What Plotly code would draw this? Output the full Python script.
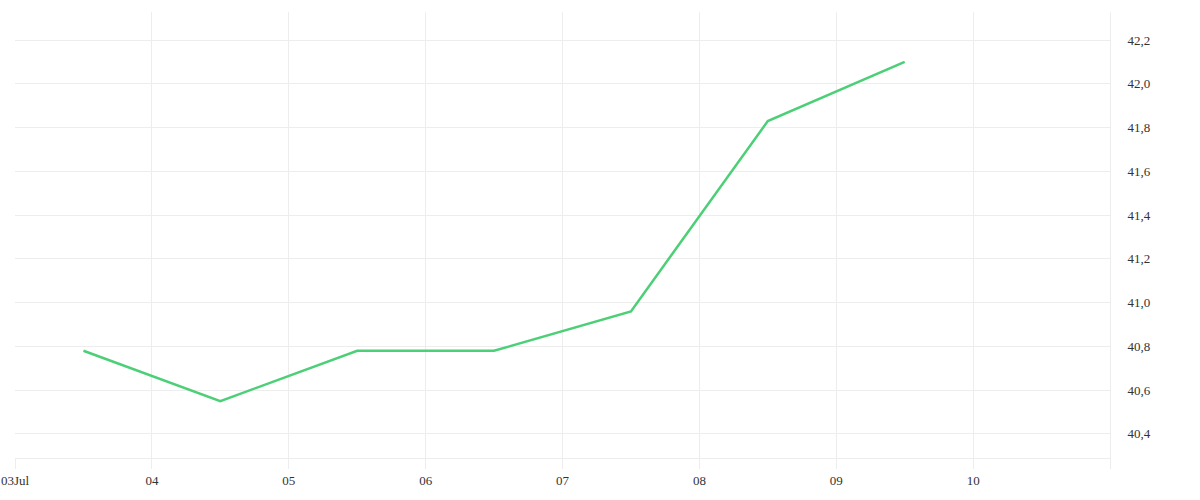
import plotly.graph_objects as go

# daily values, plotted at midday
dates = ["2024-07-03 12:00", "2024-07-04 12:00", "2024-07-05 12:00", "2024-07-06 12:00",
         "2024-07-07 12:00", "2024-07-08 12:00", "2024-07-09 12:00"]
values = [40.78, 40.55, 40.78, 40.78, 40.96, 41.83, 42.10]

tick_dates = ["2024-07-03", "2024-07-04", "2024-07-05", "2024-07-06", "2024-07-07",
              "2024-07-08", "2024-07-09", "2024-07-10", "2024-07-11"]
tick_labels = ["03Jul", "04", "05", "06", "07", "08", "09", "10", ""]
y_ticks = [40.4, 40.6, 40.8, 41.0, 41.2, 41.4, 41.6, 41.8, 42.0, 42.2]

grid = "#ededed"

fig = go.Figure()
fig.add_trace(go.Scatter(x=dates, y=values, mode="lines",
                         line=dict(color="#4ccf77", width=2.5),
                         showlegend=False))

fig.update_layout(
    width=1200, height=500,
    margin=dict(l=15, r=90, t=12, b=42, autoexpand=False),
    paper_bgcolor="white", plot_bgcolor="white",
    separators=",.",
    font=dict(family="Liberation Serif", size=13, color="#333333"),
)
fig.update_xaxes(
    range=["2024-07-03", "2024-07-11"],
    tickvals=tick_dates, ticktext=tick_labels,
    showgrid=True, gridcolor=grid, gridwidth=1,
    ticks="outside", ticklen=10, tickcolor=grid,
    showline=True, linecolor=grid, linewidth=1,
    zeroline=False, automargin=False,
    ticklabeloverflow="allow",
)
fig.update_yaxes(
    side="right",
    range=[40.29, 42.328],
    tickvals=y_ticks, tickformat=".1f",
    showgrid=True, gridcolor=grid, gridwidth=1,
    ticks="", ticklabelstandoff=14,
    showline=True, linecolor=grid, linewidth=1,
    zeroline=False, automargin=False,
)

# drop the default body margin so the chart sits flush in the window
fig.write_html("out.html", config={"displayModeBar": False},
               post_script="document.body.style.margin='0';")
